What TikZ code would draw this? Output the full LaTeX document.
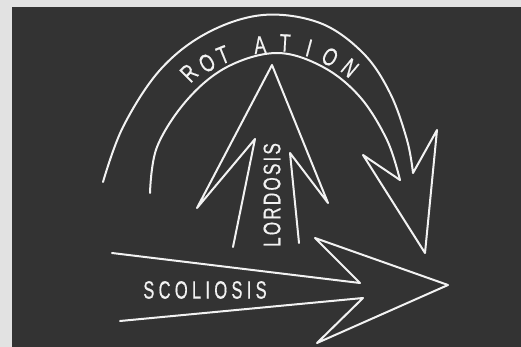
\documentclass[tikz,border=0pt]{standalone}
\usepackage{fontspec}
\setmainfont{Liberation Sans}
\definecolor{board}{HTML}{333333}
\definecolor{marginc}{HTML}{E2E2E2}
\definecolor{chalkc}{HTML}{F2F2F2}
\newcommand{\narrowtxt}[2]{\scalebox{#1}[1]{#2}}
\begin{document}
\begin{tikzpicture}[x=1pt,y=-1pt,
  chalk/.style={draw=chalkc, line width=2pt, line cap=round, line join=round},
  lbl/.style={text=chalkc, inner sep=0pt, font=\fontsize{25}{25}\selectfont\addfontfeature{FakeBold=0.6}},
  vlbl/.style={text=chalkc, inner sep=0pt, font=\fontsize{24}{24}\selectfont\addfontfeature{FakeBold=0.6,LetterSpace=12}},
  slbl/.style={text=chalkc, inner sep=0pt, font=\fontsize{25}{25}\selectfont\addfontfeature{FakeBold=0.6,LetterSpace=26}}]
\fill[marginc] (0,0) rectangle (521,347);
\fill[board] (12,7) rectangle (521,347);
\useasboundingbox (0,0) rectangle (521,347);
% rotation arrow
\draw[chalk] plot[smooth, tension=0.6] coordinates {(103,182) (123,127) (160,70) (207,33) (263,15) (320,23) (363,53) (390,93) (407,140) (413,173)}
  -- (437,130) -- (425,253) -- (363,155) -- (400,180);
\draw[chalk] plot[smooth, tension=0.6] coordinates {(150,193) (157,147) (187,100) (227,67) (277,53) (323,67) (360,97) (387,140) (400,180)};
% lordosis arrow
\draw[chalk] (233,247) -- (255,139) -- (197,208) -- (272,65) -- (328,203) -- (290,153) -- (299,243);
% scoliosis arrow
\draw[chalk] (112,253) -- (360,283) -- (315,238) -- (448,285) -- (317,343) -- (363,298) -- (120,321);
% labels
\node[lbl, rotate=45] (r1) at (189,73) {\narrowtxt{0.72}{R}};
\node[lbl, rotate=32] (r2) at (207,63) {\narrowtxt{0.72}{O}};
\node[lbl, rotate=22] (r3) at (223,55) {\narrowtxt{0.72}{T}};
\node[lbl, rotate=5] (r4) at (260,45) {\narrowtxt{0.72}{A}};
\node[lbl, rotate=-3] (r5) at (285,43) {\narrowtxt{0.72}{T}};
\node[lbl, rotate=-15] (r6) at (309,48) {\narrowtxt{0.72}{I}};
\node[lbl, rotate=-28] (r7) at (330,57) {\narrowtxt{0.72}{O}};
\node[lbl, rotate=-40] (r8) at (350,68) {\narrowtxt{0.72}{N}};
\node[vlbl, rotate=90] (lord) at (272,195) {\narrowtxt{0.72}{LORDOSIS}};
\node[slbl] (scol) at (205,290) {\narrowtxt{0.66}{SCOLIOSIS}};
\end{tikzpicture}
\end{document}
